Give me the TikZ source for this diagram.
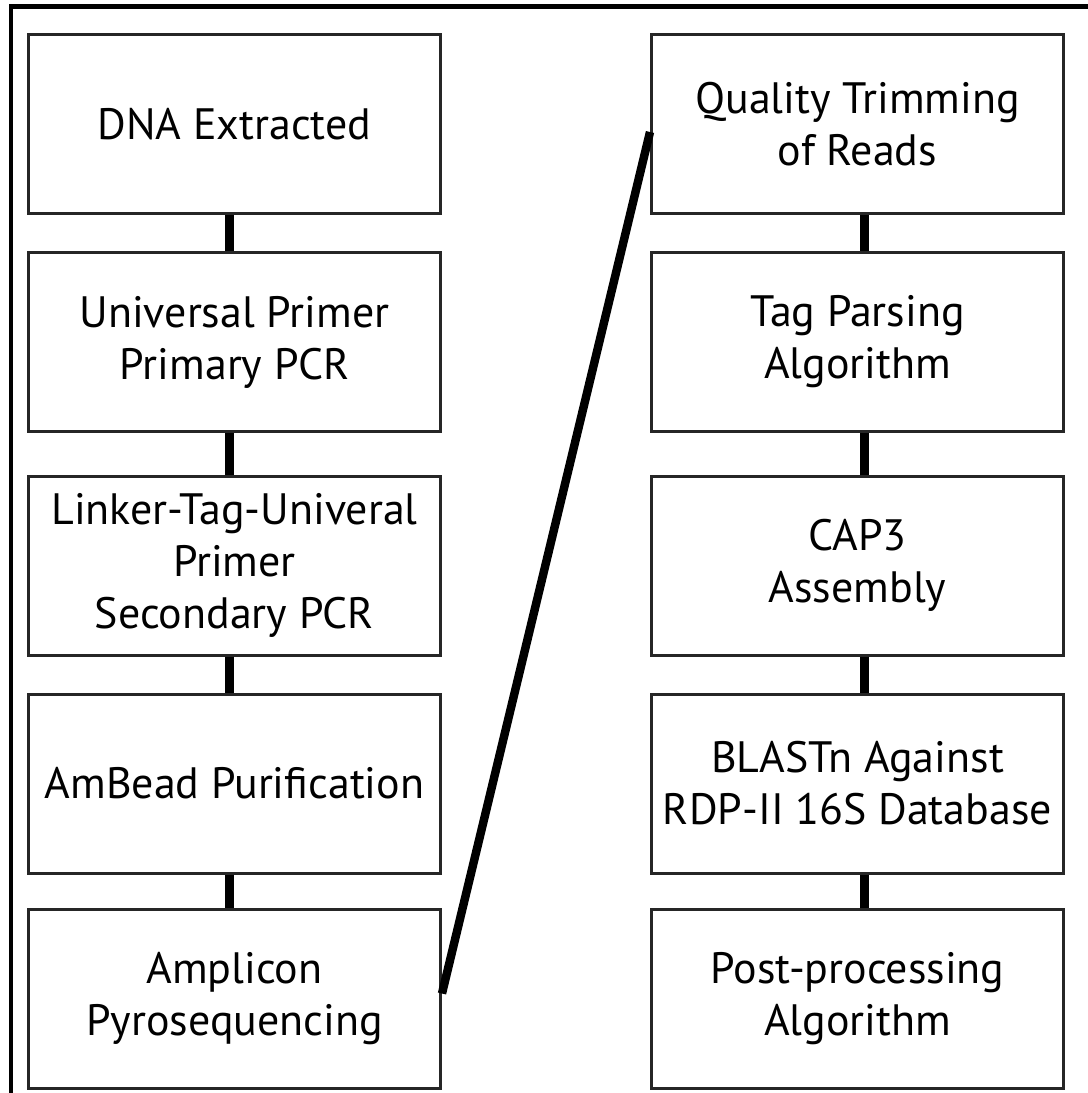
\documentclass[tikz,border=0pt]{standalone}
\usepackage{fontspec}
\setmainfont{PT Sans}
\usepackage{tikz}
\usetikzlibrary{positioning,calc}

\begin{document}
\begin{tikzpicture}[
  paso/.style={draw=black!85, line width=0.85pt, fill=white,
               minimum height=17.9mm, minimum width=41.2mm, align=center,
               font=\fontsize{12.5}{14.8}\selectfont, inner sep=1pt},
  enlace/.style={draw=black, line width=2.4pt},
  marco/.style={draw=black, line width=1.2pt},
]
  \useasboundingbox (0,0) rectangle (10.88,-10.93);

  % Marco exterior (recortado abajo y a la derecha)
  \draw[marco] (0.11,-10.93) -- (0.11,-0.065) -- (10.88,-0.065);

  % Columna izquierda: laboratorio
  \node[paso] (dna)  at (2.345,-1.24)  {DNA Extracted};
  \node[paso] (upcr) at (2.345,-3.42)  {Universal Primer\\Primary PCR};
  \node[paso] (ltu)  at (2.345,-5.655) {Linker-Tag-Univeral\\Primer\\Secondary PCR};
  \node[paso] (amb)  at (2.345,-7.835) {AmBead Purification};
  \node[paso] (amp)  at (2.345,-9.985) {Amplicon\\Pyrosequencing};

  % Columna derecha: analisis
  \node[paso] (qual) at (8.575,-1.24)  {Quality Trimming\\of Reads};
  \node[paso] (tag)  at (8.575,-3.42)  {Tag Parsing\\Algorithm};
  \node[paso] (cap)  at (8.575,-5.655) {CAP3\\Assembly};
  \node[paso] (blst) at (8.575,-7.835) {BLASTn Against\\RDP-II 16S Database};
  \node[paso] (post) at (8.575,-9.985) {Post-processing\\Algorithm};

  % Enlaces verticales
  \draw[enlace] ([xshift=-0.5mm]dna.south)  -- ([xshift=-0.5mm]upcr.north);
  \draw[enlace] ([xshift=-0.5mm]upcr.south) -- ([xshift=-0.5mm]ltu.north);
  \draw[enlace] ([xshift=-0.5mm]ltu.south)  -- ([xshift=-0.5mm]amb.north);
  \draw[enlace] ([xshift=-0.5mm]amb.south)  -- ([xshift=-0.5mm]amp.north);
  \draw[enlace] ([xshift=0.7mm]qual.south) -- ([xshift=0.7mm]tag.north);
  \draw[enlace] ([xshift=0.7mm]tag.south)  -- ([xshift=0.7mm]cap.north);
  \draw[enlace] ([xshift=0.7mm]cap.south)  -- ([xshift=0.7mm]blst.north);
  \draw[enlace] ([xshift=0.7mm]blst.south) -- ([xshift=0.7mm]post.north);

  % Paso de una columna a la otra
  \draw[enlace] ($(amp.east)+(0,0.05)$) -- ($(qual.west)+(0,-0.08)$);
\end{tikzpicture}
\end{document}
